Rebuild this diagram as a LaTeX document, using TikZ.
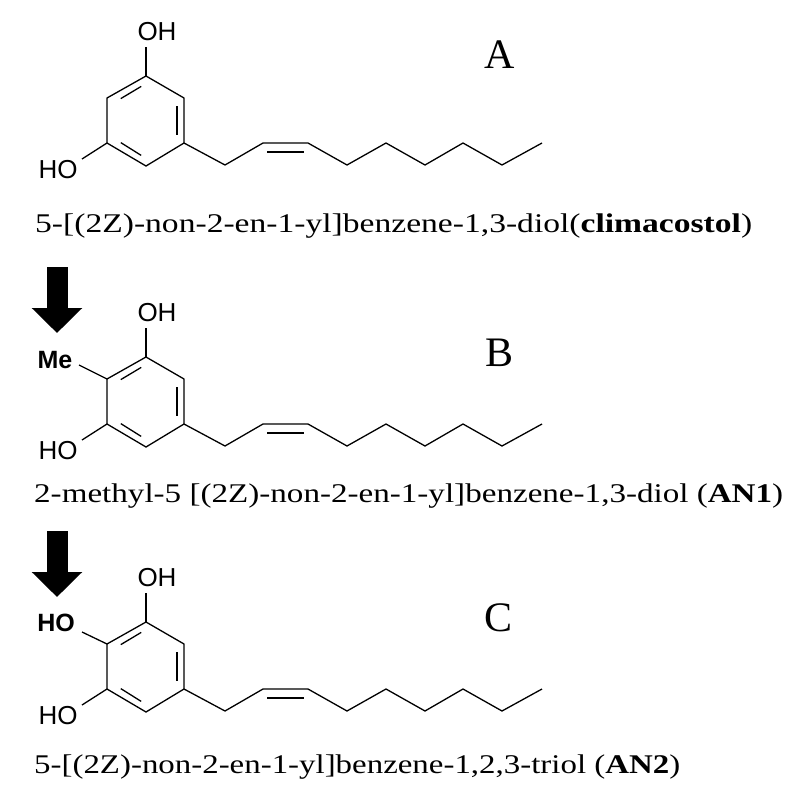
\documentclass[tikz,border=0pt]{standalone}
\usepackage{fontspec}
\setmainfont{Liberation Serif}
\newfontfamily\chemfont{Liberation Sans}
\usetikzlibrary{arrows.meta,calc}
\tikzset{
  bond/.style={line width=1.3pt,line join=miter},
  atom/.style={font=\chemfont\fontsize{26}{26}\selectfont,inner sep=0pt},
  boldatom/.style={atom,font=\chemfont\bfseries\fontsize{25}{25}\selectfont},
  tag/.style={font=\fontsize{42}{42}\selectfont,inner sep=0pt},
  cname/.style={font=\fontsize{27}{27}\selectfont,anchor=base west,inner sep=0pt},
  bigarrow/.style={line width=21pt,-{Triangle[width=49pt,length=25pt]}}
}
% one phenol ring with its nonenyl chain
\newcommand{\molecule}{%
  \coordinate (t) at (146,76);
  \coordinate (ul) at (107,98);
  \coordinate (ur) at (184,98);
  \coordinate (ll) at (107,143);
  \coordinate (lr) at (184,143);
  \coordinate (b) at (146,166);
  \draw[bond] (t) -- (ur) -- (lr) -- (b) -- (ll) -- (ul) -- cycle;
  \draw[bond] ($(t)!0.2!(ul)+(3,6)$) -- ($(ul)!0.2!(t)+(6,5)$);
  \draw[bond] ($(ur)+(-7,8)$) -- ($(lr)+(-7,-8)$);
  \draw[bond] ($(ll)!0.2!(b)+(6,-5)$) -- ($(b)!0.2!(ll)+(3,-6)$);
  \node[atom] (oh) at (157,32) {OH};
  \node[atom] (ho) at (58,170) {HO};
  \draw[bond] (t) -- (146,47);
  \draw[bond] (ll) -- (82,159);
  \draw[bond] (lr) -- (225,165) -- (263,143) -- (308,143) -- (347,165)
    -- (386,143) -- (425,165) -- (463,143) -- (502,165) -- (542,143);
  \draw[bond] (267,152) -- (304,152);
}
\begin{document}
\begin{tikzpicture}[x=1pt,y=-1pt]
  \useasboundingbox (0,0) rectangle (795,801);
  \fill[white] (0,0) rectangle (795,801);
  % A
  \begin{scope}
    \molecule
  \end{scope}
  \node[tag] (la) at (500,55) {A};
  \node[cname] (na) at (35,232) {\resizebox{717pt}{\height}{5-[(2Z)-non-2-en-1-yl]benzene-1,3-diol(\textbf{climacostol})}};
  % B
  \begin{scope}[shift={(0,281)}]
    \molecule
    \node[boldatom] (me) at (55,79) {Me};
    \draw[bond] (ul) -- (79,84);
  \end{scope}
  \node[tag] (lb) at (500,353) {B};
  \node[cname] (nb) at (34,502) {\resizebox{749pt}{\height}{2-methyl-5 [(2Z)-non-2-en-1-yl]benzene-1,3-diol (\textbf{AN1})}};
  % C
  \begin{scope}[shift={(0,546)}]
    \molecule
    \node[boldatom] (hob) at (56,77) {HO};
    \draw[bond] (ul) -- (82,86);
  \end{scope}
  \node[tag] (lc) at (499,618) {C};
  \node[cname] (nc) at (34,773) {\resizebox{646pt}{\height}{5-[(2Z)-non-2-en-1-yl]benzene-1,2,3-triol (\textbf{AN2})}};
  % steps
  \draw[bigarrow] (57,267) -- (57,333);
  \draw[bigarrow] (57,531) -- (57,597);
\end{tikzpicture}
\end{document}
